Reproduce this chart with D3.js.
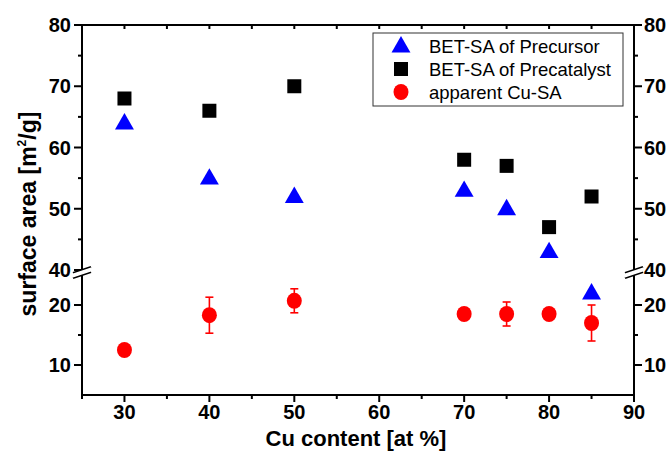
<!DOCTYPE html>
<html><head><meta charset="utf-8">
<script src="https://cdn.jsdelivr.net/npm/d3@7"></script>
<style>body{margin:0;background:#fff}svg{display:block}text{font-family:Arial,"Liberation Sans",sans-serif}</style>
</head><body>
<script>
const cuContent = [30, 40, 50, 70, 75, 80, 85];
const betPrecursor = [64, 55, 52, 53, 50, 43, 22];
const betPrecatalyst = [68, 66, 70, 58, 57, 47, 52];
const cuSA = [12.5, 18.3, 20.7, 18.5, 18.5, 18.5, 17.0];
const cuSAErr = [0, 3.0, 2.0, 0, 2.0, 0, 3.0];
const xTicks = [30, 40, 50, 60, 70, 80, 90];
const xMinor = [25, 35, 45, 55, 65, 75, 85];
const yUpTicks = [40, 50, 60, 70, 80];
const yUpMinor = [45, 55, 65, 75];
const yLoTicks = [10, 20];
const yLoMinor = [15];
const legendLabels = ["BET-SA of Precursor", "BET-SA of Precatalyst", "apparent Cu-SA"];

const W = 672, H = 453;
const L = 82, R = 634, T = 25, B = 395;
const svg = d3.select("body").append("svg").attr("width", W).attr("height", H);

const x = d3.scaleLinear().domain([25, 90]).range([L, R]);
const yUp = d3.scaleLinear().domain([40, 80]).range([270, T]);
const yLo = d3.scaleLinear().domain([5, 25]).range([B, 275]);
const yv = v => v >= 30 ? yUp(v) : yLo(v);

const ax = svg.append("g").attr("stroke", "#000").attr("stroke-width", 2).attr("fill", "none");
ax.append("line").attr("x1", L - 1).attr("x2", R + 1).attr("y1", B).attr("y2", B);
ax.append("line").attr("x1", L - 1).attr("x2", R + 1).attr("y1", T).attr("y2", T);
[L, R].forEach(px => {
  ax.append("line").attr("x1", px).attr("x2", px).attr("y1", T - 1).attr("y2", yUp(40));
  ax.append("line").attr("x1", px).attr("x2", px).attr("y1", yLo(25)).attr("y2", B + 1);
});
xTicks.forEach(v => ax.append("line").attr("x1", x(v)).attr("x2", x(v)).attr("y1", B).attr("y2", B + 7));
xMinor.forEach(v => ax.append("line").attr("x1", x(v)).attr("x2", x(v)).attr("y1", B).attr("y2", B + 4));
xTicks.concat(xMinor).forEach(v => { if (v > 25 && v < 90) ax.append("line").attr("x1", x(v)).attr("x2", x(v)).attr("y1", T).attr("y2", T + 4); });
function yt(scale, vals, len) {
  vals.forEach(v => {
    ax.append("line").attr("x1", L - len).attr("x2", L).attr("y1", scale(v)).attr("y2", scale(v));
    ax.append("line").attr("x1", R).attr("x2", R + len).attr("y1", scale(v)).attr("y2", scale(v));
  });
}
yt(yUp, yUpTicks, 8); yt(yUp, yUpMinor, 4); yt(yLo, yLoTicks, 8); yt(yLo, yLoMinor, 4);
const yb = (yUp(40) + yLo(25)) / 2;
[L, R].forEach(px => {
  svg.append("polygon").attr("points", `${px-9},${yb+1} ${px+9},${yb-5} ${px+9},${yb-1} ${px-9},${yb+5}`).attr("fill", "#fff");
  [-2.5, 2.5].forEach(o => ax.append("line").attr("x1", px - 9).attr("y1", yb + 3 + o).attr("x2", px + 9).attr("y2", yb - 3 + o));
});

const tl = svg.append("g").attr("font-size", 20).attr("font-weight", "bold").attr("fill", "#000");
xTicks.forEach(v => tl.append("text").attr("x", x(v)).attr("y", B + 24).attr("text-anchor", "middle").text(v));
const yLabs = yUpTicks.map(v => [v, yUp(v)]).concat(yLoTicks.map(v => [v, yLo(v)]));
yLabs.forEach(([v, py]) => {
  tl.append("text").attr("x", L - 11).attr("y", py).attr("dy", "0.36em").attr("text-anchor", "end").text(v);
  tl.append("text").attr("x", R + 10).attr("y", py).attr("dy", "0.36em").attr("text-anchor", "start").text(v);
});
svg.append("text").attr("x", (L + R) / 2 - 2).attr("y", 446).attr("text-anchor", "middle")
  .attr("font-size", 22).attr("font-weight", "bold").text("Cu content [at %]");
const yt2 = svg.append("text").attr("transform", `translate(36,214) rotate(-90)`).attr("text-anchor", "middle")
  .attr("font-size", 23).attr("font-weight", "bold");
yt2.append("tspan").text("surface area [m");
yt2.append("tspan").attr("font-size", 12).attr("dy", -10).text("2");
yt2.append("tspan").attr("dy", 10).text("/g]");

const tri = d3.symbol().type(d3.symbolTriangle).size(155);
const eb = svg.append("g").attr("stroke", "#f00").attr("stroke-width", 1.6);
cuContent.forEach((c, i) => {
  const e = cuSAErr[i]; if (!e) return;
  const px = x(c);
  eb.append("line").attr("x1", px).attr("x2", px).attr("y1", yLo(cuSA[i] - e)).attr("y2", yLo(cuSA[i] + e));
  [cuSA[i] - e, cuSA[i] + e].forEach(v => eb.append("line").attr("x1", px - 4).attr("x2", px + 4).attr("y1", yLo(v)).attr("y2", yLo(v)));
});
svg.append("g").selectAll("rect").data(cuContent).join("rect")
  .attr("x", (d) => x(d) - 7).attr("y", (d, i) => yv(betPrecatalyst[i]) - 7).attr("width", 14).attr("height", 14).attr("fill", "#000");
svg.append("g").selectAll("path").data(cuContent).join("path")
  .attr("d", tri).attr("transform", (d, i) => `translate(${x(d)},${yv(betPrecursor[i]) + 1})`).attr("fill", "#00f");
svg.append("g").selectAll("ellipse").data(cuContent).join("ellipse")
  .attr("cx", d => x(d)).attr("cy", (d, i) => yLo(cuSA[i])).attr("rx", 7.5).attr("ry", 8).attr("fill", "#f00");

const lg = svg.append("g");
lg.append("rect").attr("x", 373).attr("y", 33).attr("width", 250).attr("height", 73).attr("fill", "#fff").attr("stroke", "#333").attr("stroke-width", 1);
const ly = [46, 69, 92];
lg.append("path").attr("d", tri).attr("transform", `translate(401,${ly[0] + 1})`).attr("fill", "#00f");
lg.append("rect").attr("x", 394).attr("y", ly[1] - 7).attr("width", 14).attr("height", 14).attr("fill", "#000");
lg.append("ellipse").attr("cx", 401).attr("cy", ly[2]).attr("rx", 7.5).attr("ry", 8).attr("fill", "#f00");
legendLabels.forEach((t, i) => lg.append("text").attr("x", 429).attr("y", ly[i]).attr("dy", "0.36em").attr("font-size", 18.5).text(t));
</script>
</body></html>
